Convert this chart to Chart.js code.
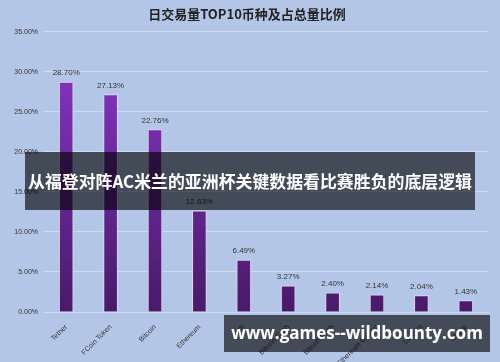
<!DOCTYPE html>
<html>
<head>
<meta charset="utf-8">
<script src="https://cdn.jsdelivr.net/npm/chart.js@4/dist/chart.umd.min.js"></script>
<style>
    html, body { margin: 0; padding: 0; background: #b4c6e7; }
    #wrap { position: relative; width: 500px; height: 362px; overflow: hidden; }
    .banner {
        position: absolute;
        background: rgba(0, 0, 0, 0.62);
        color: #fff;
        font-family: "Noto Sans CJK SC", "Noto Sans", sans-serif;
        font-weight: bold;
        text-align: center;
        white-space: nowrap;
    }
    #headline { left: 25px; top: 152px; width: 450px; height: 58px; line-height: 58px; font-size: 16.9px; }
    #site { left: 224px; top: 315px; width: 266px; height: 37px; line-height: 36px; font-size: 17px; font-family: "Open Sans", "Noto Sans", sans-serif; }
</style>
</head>
<body>
<div id="wrap">
    <canvas id="shareChart" width="500" height="362"></canvas>
    <div class="banner" id="headline">从福登对阵AC米兰的亚洲杯关键数据看比赛胜负的底层逻辑</div>
    <div class="banner" id="site">www.games--wildbounty.com</div>
</div>
<script>
"use strict";

// Chart data
var chartTitle = "日交易量TOP10币种及占总量比例";
var coins = ["Tether", "FCoin Token", "Bitcoin", "Ethereum", "EOS", "Bitcoin Cash", "Bitcoin Cash", "Ethereum Classic", "Litecoin", "Stable"];
var shares = [28.70, 27.13, 22.76, 12.63, 6.49, 3.27, 2.40, 2.14, 2.04, 1.43];
var yTicks = [0, 5, 10, 15, 20, 25, 30, 35];

// Writes the percentage above every bar
var valueLabels = {
    id: "valueLabels",
    afterDatasetsDraw: function (chart) {
        var ctx = chart.ctx;
        var meta = chart.getDatasetMeta(0);
        ctx.save();
        ctx.font = "8px 'Liberation Sans', sans-serif";
        ctx.fillStyle = "#333";
        ctx.textAlign = "center";
        ctx.textBaseline = "bottom";
        for (let i = 0; i < meta.data.length; i++) {
            var bar = meta.data[i];
            ctx.fillText(shares[i].toFixed(2) + "%", bar.x, bar.y - 5);
        }
        ctx.restore();
    }
};

function barGradient(context) {
    var area = context.chart.chartArea;
    if (!area) {
        return "#7030a0";
    }
    var g = context.chart.ctx.createLinearGradient(0, area.top + 60, 0, area.bottom);
    g.addColorStop(0, "#7d32b6");
    g.addColorStop(1, "#481a68");
    return g;
}

var ctx = document.getElementById("shareChart").getContext("2d");
var chart = new Chart(ctx, {
    type: "bar",
    data: {
        labels: coins,
        datasets: [{
            data: shares,
            backgroundColor: barGradient,
            borderColor: "#e2d6f2",
            borderWidth: 1,
            barThickness: 14
        }]
    },
    options: {
        responsive: false,
        animation: false,
        layout: { padding: { left: 6, right: 12, top: 0, bottom: 0 } },
        plugins: {
            legend: { display: false },
            tooltip: { enabled: false },
            title: {
                display: true,
                text: chartTitle,
                color: "#222",
                font: { family: "'Noto Sans CJK SC', sans-serif", size: 13, weight: "bold" },
                padding: { top: 6, bottom: 10 }
            }
        },
        scales: {
            x: {
                grid: { display: false },
                border: { color: "#d4dcea" },
                ticks: {
                    minRotation: 45,
                    maxRotation: 45,
                    color: "#333",
                    font: { family: "'Liberation Sans', sans-serif", size: 7 }
                },
                afterFit: function (scale) { scale.height = 50; }
            },
            y: {
                min: 0,
                max: 35,
                afterBuildTicks: function (scale) {
                    scale.ticks = yTicks.map(function (v) { return { value: v }; });
                },
                grid: { color: "#d2dcef", drawTicks: false },
                border: { display: false },
                ticks: {
                    padding: 6,
                    color: "#333",
                    font: { family: "'Liberation Sans', sans-serif", size: 7 },
                    callback: function (v) { return v.toFixed(2) + "%"; }
                },
                afterFit: function (scale) { scale.width = 38; }
            }
        }
    },
    plugins: [valueLabels]
});
</script>
</body>
</html>
